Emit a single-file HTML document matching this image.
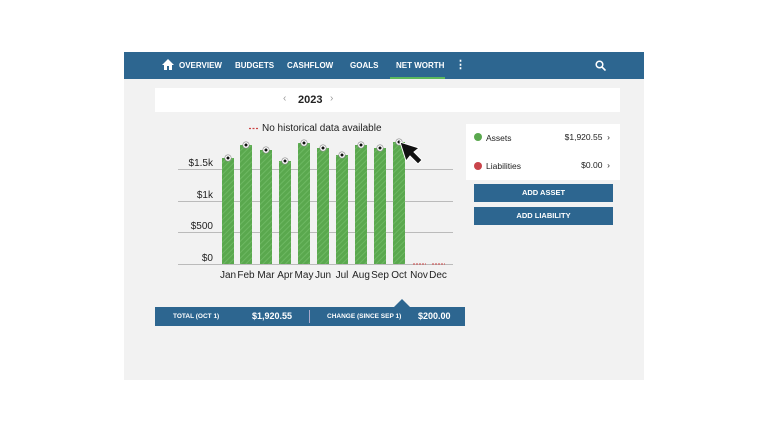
<!DOCTYPE html>
<html><head><style>
body{margin:0;width:768px;height:432px;background:#fff;font-family:"Liberation Sans",sans-serif;position:relative;overflow:hidden}
.a{position:absolute}
.nav{left:124px;top:52px;width:520px;height:27px;background:#2d6690;color:#fff;font-size:8px;font-weight:bold}
.nav span{position:absolute;top:9px}
.btn{left:474px;width:139px;height:18px;background:#2d6690;color:#fff;font-size:7.5px;font-weight:bold;text-align:center;line-height:18px}
</style></head><body>
<div class="a" style="left:124px;top:52px;width:520px;height:328px;background:#f2f2f2"></div>
<div class="a nav">
<svg class="a" style="left:38px;top:7px" width="12" height="11"><path d="M6 0L0 6h2v5h3V7h2v4h3V6h2z" fill="#fff"/></svg>
<span style="left:55px">OVERVIEW</span><span style="left:111px">BUDGETS</span><span style="left:163px">CASHFLOW</span><span style="left:226px">GOALS</span><span style="left:272px">NET WORTH</span>
<span style="left:331px;font-size:11px;top:6px">⋮</span>
<div class="a" style="left:266px;top:25px;width:55px;height:2px;background:#5cb85c"></div>
<svg class="a" style="left:471px;top:8px" width="11" height="11"><circle cx="4.5" cy="4.5" r="3.3" stroke="#fff" stroke-width="1.5" fill="none"/><path d="M7 7l3.5 3.5" stroke="#fff" stroke-width="1.6"/></svg>
</div>
<div class="a" style="left:155px;top:88px;width:465px;height:24px;background:#fff"></div>
<div class="a" style="left:283px;top:93px;font-size:10px;color:#999">‹</div>
<div class="a" style="left:298px;top:94px;font-size:11px;font-weight:bold;color:#222">2023</div>
<div class="a" style="left:330px;top:93px;font-size:10px;color:#999">›</div>
<div class="a" style="left:262px;top:123px;font-size:10px;color:#222">No historical data available</div>
<svg class="a" style="left:0;top:0" width="768" height="432">
<defs><pattern id="h" width="4" height="4" patternUnits="userSpaceOnUse" patternTransform="rotate(45)"><rect width="4" height="4" fill="#5aa84e"/><rect width="1" height="4" fill="#6db862"/></pattern></defs>
<line x1="249" y1="128.5" x2="259" y2="128.5" stroke="#c44" stroke-width="1.2" stroke-dasharray="2,1.5"/>
<g stroke="#bbb" stroke-width="1"><line x1="178" y1="169.5" x2="453" y2="169.5"/><line x1="178" y1="201.5" x2="453" y2="201.5"/><line x1="178" y1="232.5" x2="453" y2="232.5"/><line x1="178" y1="264.5" x2="453" y2="264.5"/></g>
<g font-size="10" fill="#222" text-anchor="end"><text x="213" y="166">$1.5k</text><text x="213" y="198">$1k</text><text x="213" y="229">$500</text><text x="213" y="261">$0</text></g>
<g id="bars"></g>
<g stroke="#c44" stroke-width="1" stroke-dasharray="2,1"><line x1="413" y1="264" x2="426" y2="264"/><line x1="432" y1="264" x2="445" y2="264"/></g>
<g font-size="10" fill="#222" text-anchor="middle">
<text x="228" y="278">Jan</text><text x="246" y="278">Feb</text><text x="266" y="278">Mar</text><text x="285" y="278">Apr</text><text x="304" y="278">May</text><text x="323" y="278">Jun</text><text x="342" y="278">Jul</text><text x="361" y="278">Aug</text><text x="380" y="278">Sep</text><text x="399" y="278">Oct</text><text x="419" y="278">Nov</text><text x="438" y="278">Dec</text></g>
<path d="M400 142l6 19 4-5 8 8 4-4-8-8 5-4z" fill="#111" stroke="#fff" stroke-width="1"/>
</svg>
<script>
var t=[158,145,150,161,143,148,155,145,148,142],x=[228,246,266,285,304,323,342,361,380,399],s='';
for(var i=0;i<10;i++){s+='<rect x="'+(x[i]-6)+'" y="'+t[i]+'" width="12" height="'+(264-t[i])+'" fill="url(#h)"/><circle cx="'+x[i]+'" cy="'+t[i]+'" r="3.2" fill="#fff" stroke="#888" stroke-width=".6"/><circle cx="'+x[i]+'" cy="'+t[i]+'" r="1.5" fill="#111"/>';}
document.getElementById('bars').innerHTML=s;
</script>
<div class="a" style="left:466px;top:124px;width:154px;height:56px;background:#fff;font-size:8.5px;color:#222">
<div class="a" style="left:8px;top:9px;width:8px;height:8px;border-radius:50%;background:#5aa84e"></div>
<div class="a" style="left:20px;top:9px">Assets</div><div class="a" style="right:10px;top:8px">$1,920.55 &nbsp;›</div>
<div class="a" style="left:8px;top:38px;width:8px;height:8px;border-radius:50%;background:#c9444a"></div>
<div class="a" style="left:20px;top:37px">Liabilities</div><div class="a" style="right:10px;top:36px">$0.00 &nbsp;›</div>
</div>
<div class="a btn" style="top:184px">ADD ASSET</div>
<div class="a btn" style="top:207px">ADD LIABILITY</div>
<div class="a" style="left:155px;top:307px;width:310px;height:19px;background:#2d6690;color:#fff;font-weight:bold">
<div class="a" style="left:18px;top:6px;font-size:6.5px">TOTAL (OCT 1)</div>
<div class="a" style="left:97px;top:4px;font-size:9px">$1,920.55</div>
<div class="a" style="left:154px;top:3px;width:1px;height:13px;background:#aac"></div>
<div class="a" style="left:172px;top:6px;font-size:6.5px">CHANGE (SINCE SEP 1)</div>
<div class="a" style="left:263px;top:4px;font-size:9px">$200.00</div>
</div>
<div class="a" style="left:394px;top:299px;width:0;height:0;border-left:8px solid transparent;border-right:8px solid transparent;border-bottom:8px solid #2d6690"></div>
</body></html>
